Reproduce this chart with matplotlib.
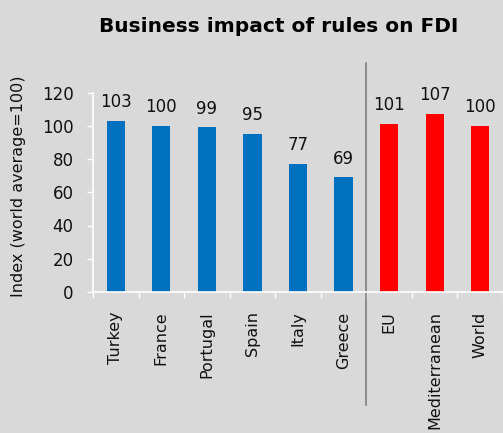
import matplotlib.pyplot as plt
import numpy as np

countries = ['Turkey', 'France', 'Portugal', 'Spain', 'Italy', 'Greece',
             'EU', 'Mediterranean', 'World']
values = [103, 100, 99, 95, 77, 69, 101, 107, 100]
bar_colors = ['#0070C0'] * 6 + ['#FF0000'] * 3

bg = '#D9D9D9'
plt.rcParams['font.family'] = 'DejaVu Sans'

fig = plt.figure(figsize=(5.03, 4.33), dpi=100, facecolor=bg)
ax = fig.add_axes([93 / 503, 141 / 433, 410 / 503, 199.5 / 433], facecolor=bg)

x = np.arange(len(countries))
ax.bar(x, values, width=0.4, color=bar_colors)
for xi, v in zip(x, values):
    ax.annotate(str(v), (xi, v), xytext=(0, 7), textcoords='offset points',
                ha='center', va='bottom', fontsize=12, color='#111111',
                annotation_clip=False)

ax.set_xlim(-0.5, 8.5)
ax.set_ylim(0, 120)
ax.set_yticks(range(0, 121, 20))
ax.set_xticks(x)
ax.set_xticklabels(countries, rotation=90, fontsize=11.5, color='#111111')
ax.set_xticks(np.arange(-0.5, 9, 1), minor=True)
ax.tick_params(axis='x', which='major', length=0, pad=14)
ax.tick_params(axis='x', which='minor', length=4, color='white', width=1)
ax.tick_params(axis='y', length=4, color='white', labelsize=12,
               labelcolor='#111111', width=1, pad=10)

for s in ['top', 'right']:
    ax.spines[s].set_visible(False)
for s in ['left', 'bottom']:
    ax.spines[s].set_color('white')
    ax.spines[s].set_linewidth(1.2)

# separator between countries and regions
ax.plot([5.5, 5.5], [137.5, -68], color='#808080', lw=1.2, clip_on=False)

ax.set_ylabel('Index (world average=100)', fontsize=11.5, color='#111111')
ax.yaxis.set_label_coords(-0.163, 0.53)
fig.text(0.555, 0.938, 'Business impact of rules on FDI', ha='center',
         va='center', fontsize=14.5, fontweight='bold')

fig.savefig('out.png', dpi=100, facecolor=bg)
